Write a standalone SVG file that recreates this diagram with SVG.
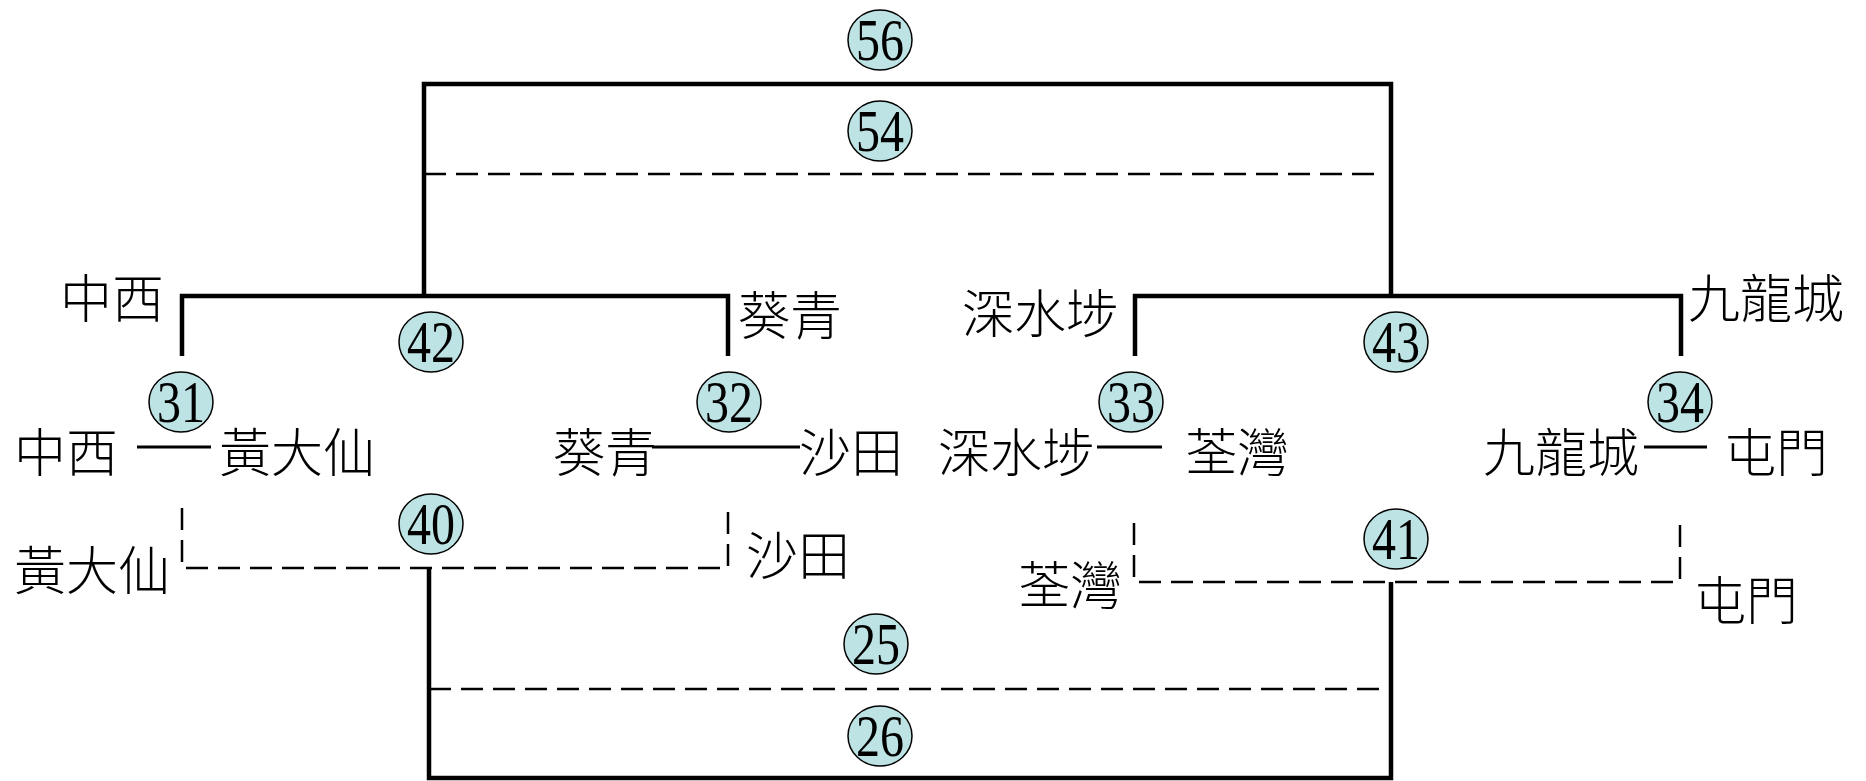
<svg xmlns="http://www.w3.org/2000/svg" width="1866" height="781" viewBox="0 0 1866 781">
<style>
.bg{fill:#ffffff}
.thick{fill:none;stroke:#000;stroke-width:4.5;stroke-linecap:butt}
.thin{fill:none;stroke:#000;stroke-width:3}
.dash{fill:none;stroke:#000;stroke-width:2.5;stroke-dasharray:22 10}
.badge ellipse{fill:#bde3e4;stroke:#000;stroke-width:1.5}
.badge text{font-family:"Liberation Serif",serif;font-size:60px;fill:#000;text-anchor:middle}
.lbl{font-family:"Noto Sans CJK TC","Noto Sans CJK SC",sans-serif;font-size:52px;fill:#000;font-weight:300}
</style>
<rect class="bg" x="0" y="0" width="1866" height="781"/>
<g id="connectors">
  <path class="thick" d="M424,296 V84 H1391 V296"/>
  <path class="dash" d="M424,174 H1384"/>
  <path class="thick" d="M182,356 V296 H728 V356"/>
  <path class="thick" d="M1135,356 V296 H1681 V356"/>
  <path class="thin" d="M137,447 H211"/>
  <path class="thin" d="M652,447 H800"/>
  <path class="thin" d="M1097,447 H1162"/>
  <path class="thin" d="M1644,447 H1707"/>
  <path class="dash" d="M182,508 V568 H728 V508"/>
  <path class="dash" d="M1134,523 V582 H1680 V523"/>
  <path class="thick" d="M429,568 V778 H1391 V582"/>
  <path class="dash" d="M429,689 H1384"/>
</g>
<g id="node-56" class="badge"><ellipse cx="880" cy="40" rx="32" ry="30"/><text x="880" y="60" textLength="48" lengthAdjust="spacingAndGlyphs">56</text></g>
<g id="node-54" class="badge"><ellipse cx="880" cy="131" rx="32" ry="30"/><text x="880" y="151" textLength="48" lengthAdjust="spacingAndGlyphs">54</text></g>
<g id="node-42" class="badge"><ellipse cx="431" cy="342" rx="32" ry="30"/><text x="431" y="362" textLength="48" lengthAdjust="spacingAndGlyphs">42</text></g>
<g id="node-43" class="badge"><ellipse cx="1396" cy="342" rx="32" ry="30"/><text x="1396" y="362" textLength="48" lengthAdjust="spacingAndGlyphs">43</text></g>
<g id="node-31" class="badge"><ellipse cx="181" cy="402" rx="32" ry="30"/><text x="181" y="422" textLength="48" lengthAdjust="spacingAndGlyphs">31</text></g>
<g id="node-32" class="badge"><ellipse cx="729" cy="402" rx="32" ry="30"/><text x="729" y="422" textLength="48" lengthAdjust="spacingAndGlyphs">32</text></g>
<g id="node-33" class="badge"><ellipse cx="1131" cy="402" rx="32" ry="30"/><text x="1131" y="422" textLength="48" lengthAdjust="spacingAndGlyphs">33</text></g>
<g id="node-34" class="badge"><ellipse cx="1680" cy="402" rx="32" ry="30"/><text x="1680" y="422" textLength="48" lengthAdjust="spacingAndGlyphs">34</text></g>
<g id="node-40" class="badge"><ellipse cx="431" cy="524" rx="32" ry="30"/><text x="431" y="544" textLength="48" lengthAdjust="spacingAndGlyphs">40</text></g>
<g id="node-41" class="badge"><ellipse cx="1396" cy="539" rx="32" ry="30"/><text x="1396" y="559" textLength="48" lengthAdjust="spacingAndGlyphs">41</text></g>
<g id="node-25" class="badge"><ellipse cx="876" cy="644" rx="32" ry="30"/><text x="876" y="664" textLength="48" lengthAdjust="spacingAndGlyphs">25</text></g>
<g id="node-26" class="badge"><ellipse cx="880" cy="736" rx="32" ry="30"/><text x="880" y="756" textLength="48" lengthAdjust="spacingAndGlyphs">26</text></g>
<g id="labels">
  <text id="lbl-zhongxi-top" class="lbl" x="60" y="318">中西</text>
  <text id="lbl-kwaiching-top" class="lbl" x="738" y="335">葵青</text>
  <text id="lbl-ssp-top" class="lbl" x="962" y="333">深水埗</text>
  <text id="lbl-klc-top" class="lbl" x="1688" y="318">九龍城</text>
  <text id="lbl-zhongxi-mid" class="lbl" x="14" y="472">中西</text>
  <text id="lbl-wts-mid" class="lbl" x="219" y="472">黃大仙</text>
  <text id="lbl-kwaiching-mid" class="lbl" x="553" y="472">葵青</text>
  <text id="lbl-shatin-mid" class="lbl" x="799" y="472">沙田</text>
  <text id="lbl-ssp-mid" class="lbl" x="938" y="472">深水埗</text>
  <text id="lbl-tw-mid" class="lbl" x="1185" y="472">荃灣</text>
  <text id="lbl-klc-mid" class="lbl" x="1483" y="472">九龍城</text>
  <text id="lbl-tm-mid" class="lbl" x="1724" y="472">屯門</text>
  <text id="lbl-wts-low" class="lbl" x="14" y="590">黃大仙</text>
  <text id="lbl-shatin-low" class="lbl" x="746" y="575">沙田</text>
  <text id="lbl-tw-low" class="lbl" x="1018" y="605">荃灣</text>
  <text id="lbl-tm-low" class="lbl" x="1694" y="620">屯門</text>
</g>
</svg>
